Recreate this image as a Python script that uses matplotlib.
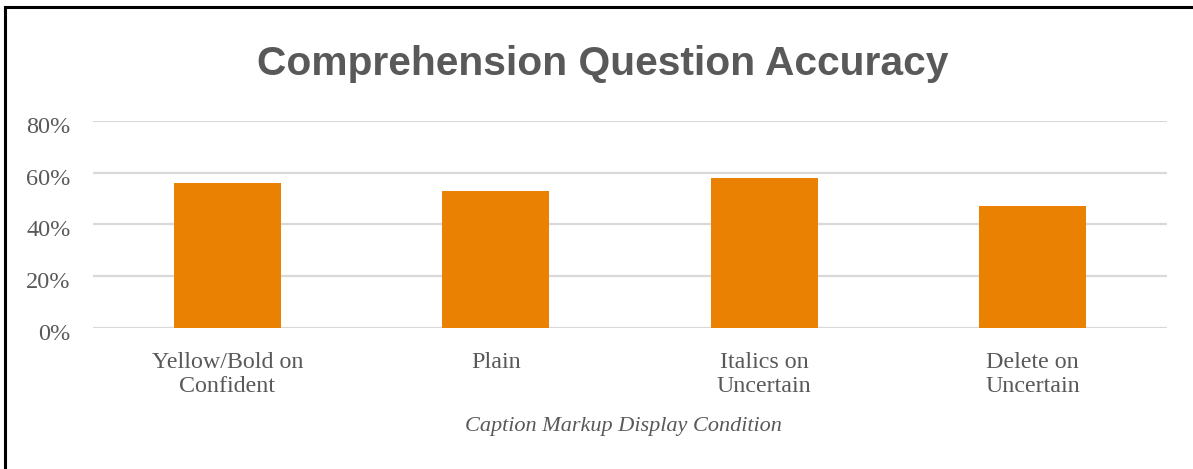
import matplotlib
matplotlib.use("Agg")
import matplotlib.pyplot as plt
from matplotlib.lines import Line2D
from matplotlib.ticker import PercentFormatter
from matplotlib.transforms import ScaledTranslation

categories = ["Yellow/Bold on\nConfident", "Plain", "Italics on\nUncertain", "Delete on\nUncertain"]
accuracy = [0.56, 0.53, 0.58, 0.47]
y_ticks = [0.0, 0.2, 0.4, 0.6, 0.8]

W, H = 1193, 469
fig = plt.figure(figsize=(W / 100, H / 100), dpi=100)
fig.patch.set_facecolor("white")

left, right = 93 / W, 1167 / W
bottom, top = 1 - 328 / H, 1 - 121 / H
ax = fig.add_axes([left, bottom, right - left, top - bottom])

x = list(range(len(categories)))
ax.bar(x, accuracy, width=0.40, color="#EA8103", zorder=3)

ax.set_xlim(-0.5, len(categories) - 0.5)
ax.set_ylim(0, 0.8)
ax.set_yticks(y_ticks)
ax.yaxis.set_major_formatter(PercentFormatter(1.0, decimals=0))
ax.grid(axis="y", color="#D9D9D9", linewidth=1.6, zorder=0)
ax.set_axisbelow(True)
for s in ax.spines.values():
    s.set_visible(False)
ax.tick_params(axis="both", length=0)
ax.tick_params(axis="y", pad=16)
ax.tick_params(axis="x", pad=17.5)

serif = ["Liberation Serif", "DejaVu Serif"]
ax.set_xticks(x)
ax.set_xticklabels(categories, fontsize=17.3, family=serif, color="#595959", linespacing=1.18)
shift = ScaledTranslation(0, -4 / 100, fig.dpi_scale_trans)
for lbl in ax.get_yticklabels():
    lbl.set_fontsize(17.5)
    lbl.set_family(serif)
    lbl.set_color("#595959")
    lbl.set_transform(lbl.get_transform() + shift)

ax.set_xlabel("Caption Markup Display Condition", fontsize=16, family=serif,
              style="italic", color="#595959")
ax.xaxis.set_label_coords(0.494, -(417 - 328) / 207)

fig.text(0.505, 1 - 64 / H, "Comprehension Question Accuracy", ha="center", va="center",
         fontsize=29.3, fontweight="bold", family=["Liberation Sans", "DejaVu Sans"],
         color="#595959")

# frame lines along the top and left edges
fig.add_artist(Line2D([5.5 / W, 5.5 / W], [0, 1 - 7.5 / H], transform=fig.transFigure,
                      color="black", linewidth=2.2))
fig.add_artist(Line2D([5.5 / W, 1], [1 - 7.5 / H, 1 - 7.5 / H], transform=fig.transFigure,
                      color="black", linewidth=2.2))

fig.savefig("out.png", dpi=100)
